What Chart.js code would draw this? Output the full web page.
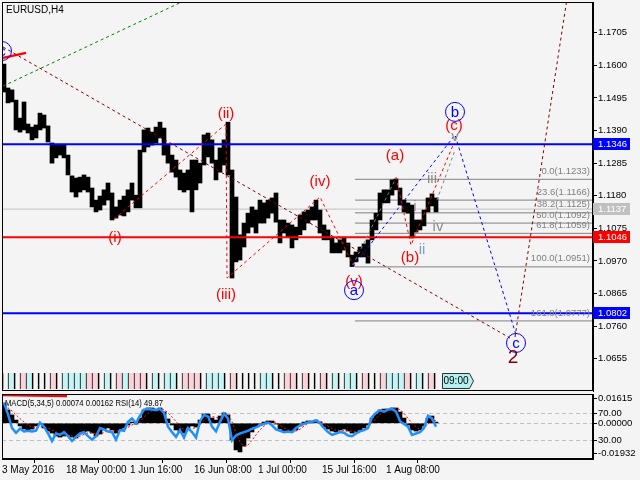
<!DOCTYPE html>
<html>
<head>
<meta charset="utf-8">
<title>EURUSD,H4</title>
<script src="https://cdn.jsdelivr.net/npm/chart.js@4.4.1/dist/chart.umd.min.js"></script>
<style>
body { margin: 0; background: #f4f4f4; }
#wrap { position: relative; width: 640px; height: 480px; background: #f4f4f4; overflow: hidden; }
#priceChart { position: absolute; left: 0; top: 0; }
#oscChart { position: absolute; left: 0; top: 393px; }
</style>
</head>
<body>
<div id="wrap">
<canvas id="priceChart" width="640" height="393"></canvas>
<canvas id="oscChart" width="640" height="87"></canvas>
</div>
<script>
// EURUSD H4 from 3 May 2016 in steps of 4 bars
const symbolTitle = 'EURUSD,H4'
const barsPerBin = 4
const barsPerDay = 6
const lastBar = 591

const dateTicks = [0, 64, 128, 192, 256, 320, 384]
const dateLabels = ['3 May 2016', '18 May 00:00', '1 Jun 16:00', '16 Jun 08:00', '1 Jul 00:00', '15 Jul 16:00', '1 Aug 08:00']
const priceTicks = [1.1705, 1.1600, 1.1495, 1.1390, 1.1285, 1.1180, 1.1075, 1.0970, 1.0865, 1.0760, 1.0655]

const highs = [
    1.1604, 1.1527, 1.1521, 1.1488, 1.1430, 1.1482, 1.1411, 1.1401, 1.1408, 1.1446,
    1.1440, 1.1405, 1.1350, 1.1343, 1.1343, 1.1343, 1.1311, 1.1244, 1.1237, 1.1240,
    1.1247, 1.1240, 1.1205, 1.1166, 1.1179, 1.1199, 1.1221, 1.1189, 1.1144, 1.1166,
    1.1179, 1.1199, 1.1221, 1.1182, 1.1327, 1.1392, 1.1398, 1.1385, 1.1401, 1.1417,
    1.1398, 1.1343, 1.1311, 1.1295, 1.1263, 1.1253, 1.1263, 1.1295, 1.1295, 1.1285,
    1.1376, 1.1382, 1.1360, 1.1295, 1.1334, 1.1360, 1.1417, 1.1263, 1.1176, 1.1054,
    1.1092, 1.1124, 1.1144, 1.1134, 1.1166, 1.1157, 1.1166, 1.1173, 1.1189, 1.1102,
    1.1102, 1.1092, 1.1086, 1.1079, 1.1118, 1.1128, 1.1134, 1.1144, 1.1166, 1.1134,
    1.1086, 1.1070, 1.1044, 1.1028, 1.1038, 1.1047, 1.1028, 1.0989, 1.0999, 1.1015,
    1.1025, 1.1038, 1.1102, 1.1124, 1.1189, 1.1199, 1.1199, 1.1231, 1.1234, 1.1205,
    1.1166, 1.1157, 1.1150, 1.1102, 1.1102, 1.1134, 1.1173, 1.1186, 1.1173
]
const lows = [
    1.1514, 1.1479, 1.1482, 1.1392, 1.1385, 1.1392, 1.1382, 1.1360, 1.1366, 1.1392,
    1.1398, 1.1353, 1.1285, 1.1302, 1.1311, 1.1302, 1.1247, 1.1192, 1.1176, 1.1192,
    1.1199, 1.1192, 1.1144, 1.1128, 1.1134, 1.1150, 1.1166, 1.1102, 1.1108, 1.1118,
    1.1115, 1.1128, 1.1166, 1.1141, 1.1141, 1.1321, 1.1337, 1.1343, 1.1350, 1.1366,
    1.1311, 1.1285, 1.1256, 1.1240, 1.1199, 1.1192, 1.1199, 1.1128, 1.1199, 1.1221,
    1.1279, 1.1305, 1.1285, 1.1231, 1.1256, 1.1279, 1.1247, 1.0915, 1.0967, 1.0973,
    1.1015, 1.1060, 1.1079, 1.1060, 1.1092, 1.1092, 1.1108, 1.1124, 1.1095, 1.1028,
    1.1060, 1.1047, 1.1012, 1.1038, 1.1054, 1.1070, 1.1092, 1.1102, 1.1102, 1.1060,
    1.1038, 1.1038, 1.0996, 1.0996, 1.0996, 1.1005, 1.0983, 1.0952, 1.0967, 1.0983,
    1.0983, 1.0963, 1.1038, 1.1070, 1.1102, 1.1157, 1.1157, 1.1182, 1.1199, 1.1150,
    1.1128, 1.1124, 1.1044, 1.1063, 1.1070, 1.1083, 1.1128, 1.1147, 1.1128
]
const lastPrice = 1.1137

// daily boxes along the bottom of the price window: c = cyan, p = pink, w = empty
const dayTones = ('wcwpcwwwpwccccppwcwpcpppwcwccwpppwcccwp' + 'wwwwccwwppwpwwpwcwccwpwwpcccpwcwpw').split('')
const timeTag = '09:00'

const levelPrices = [1.1346, 1.1046, 1.0802]
const fibStartBar = 353
const fibRatios = [0.0, 23.6, 38.2, 50.0, 61.8, 100.0, 161.8]
const fibPrices = [1.1233, 1.1166, 1.1125, 1.1092, 1.1059, 1.0951, 1.0777]

// wave lines as [bar, price] pairs
const trendGreen = [[1, 1.1533], [183, 1.1809]]
const trendMaroon = [[1, 1.1659], [508, 1.0722]]
const projection2 = [[513, 1.0725], [565, 1.1815]]
const impulseRed = [[112, 1.1105], [224, 1.1411], [225, 1.0915], [318, 1.1176], [351, 1.0957]]
const zigzagRed = [[394, 1.1240], [409, 1.1021], [452, 1.1350]]
const subwaveGrayA = [[351, 1.0957], [394, 1.1237]]
const subwaveGrayB = [[435, 1.1166], [453, 1.1327]]
const zigzagBlue = [[351, 1.0951], [453, 1.1376], [514, 1.0732]]
const markRed = [[1, 1.1624], [24, 1.1640]]

const waveLabels = ['(i)', '(ii)', '(iii)', '(iv)', '(v)', '(a)', '(b)', '(c)']
const waveLabelBars = [113, 224, 224, 318, 352, 393, 408, 452]
const waveLabelPrices = [1.1044, 1.1445, 1.0860, 1.1224, 1.0902, 1.1308, 1.0980, 1.1406]
const subLabels = ['i', 'ii', 'iii', 'iv', 'v']
const subLabelBars = [413, 420, 430, 436, 453]
const subLabelPrices = [1.1144, 1.1005, 1.1234, 1.1080, 1.1369]
const circleLabels = ['c', 'a', 'b', 'c']
const circleBars = [0, 352, 453, 514]
const circlePrices = [1.1646, 1.0876, 1.1450, 1.0706]
const degreeLabel = '2'
const degreeBar = 511
const degreePrice = 1.0657

// oscillators, same 4-bar steps
const macdMain = [
    0.0131, 0.0086, 0.0054, 0.0021, -0.0017, -0.0037, -0.0043, -0.0037, -0.0017, -0.0005,
    -0.0030, -0.0050, -0.0063, -0.0082, -0.0089, -0.0082, -0.0076, -0.0089, -0.0095, -0.0069,
    -0.0056, -0.0050, -0.0063, -0.0082, -0.0069, -0.0043, -0.0030, -0.0043, -0.0063, -0.0043,
    -0.0030, -0.0011, 0.0008, -0.0005, 0.0034, 0.0086, 0.0099, 0.0099, 0.0092, 0.0099,
    0.0073, 0.0028, -0.0011, -0.0043, -0.0056, -0.0063, -0.0030, -0.0017, -0.0024, 0.0021,
    0.0060, 0.0060, 0.0034, 0.0021, 0.0047, 0.0067, 0.0054, -0.0108, -0.0172, -0.0185,
    -0.0147, -0.0095, -0.0056, -0.0024, -0.0005, 0.0008, 0.0015, 0.0015, -0.0005, -0.0037,
    -0.0050, -0.0050, -0.0056, -0.0043, -0.0017, 0.0008, 0.0015, 0.0015, 0.0021, 0.0008,
    -0.0024, -0.0037, -0.0050, -0.0056, -0.0043, -0.0037, -0.0050, -0.0063, -0.0056, -0.0043,
    -0.0030, -0.0011, 0.0034, 0.0060, 0.0086, 0.0092, 0.0092, 0.0099, 0.0099, 0.0073,
    0.0034, -0.0011, -0.0043, -0.0050, -0.0043, -0.0017, 0.0034, 0.0047, 0.00074
]
const macdSignal = [
    0.0110, 0.0100, 0.0080, 0.0055, 0.0030, 0.0008, -0.0010, -0.0025, -0.0028, -0.0022,
    -0.0022, -0.0030, -0.0042, -0.0055, -0.0068, -0.0076, -0.0078, -0.0082, -0.0088, -0.0083,
    -0.0072, -0.0062, -0.0060, -0.0068, -0.0070, -0.0060, -0.0046, -0.0042, -0.0050, -0.0048,
    -0.0040, -0.0026, -0.0010, -0.0004, 0.0010, 0.0040, 0.0065, 0.0082, 0.0090, 0.0094,
    0.0088, 0.0068, 0.0040, 0.0012, -0.0020, -0.0042, -0.0045, -0.0035, -0.0028, -0.0010,
    0.0020, 0.0042, 0.0045, 0.0036, 0.0038, 0.0050, 0.0055, 0.0010, -0.0060, -0.0120,
    -0.0150, -0.0140, -0.0110, -0.0075, -0.0042, -0.0018, 0.0000, 0.0010, 0.0006, -0.0012,
    -0.0030, -0.0042, -0.0050, -0.0050, -0.0038, -0.0018, 0.0000, 0.0010, 0.0016, 0.0014,
    0.0000, -0.0018, -0.0034, -0.0046, -0.0048, -0.0044, -0.0045, -0.0052, -0.0055, -0.0050,
    -0.0040, -0.0026, 0.0000, 0.0030, 0.0058, 0.0076, 0.0086, 0.0092, 0.0096, 0.0088,
    0.0065, 0.0032, 0.0000, -0.0025, -0.0038, -0.0032, -0.0005, 0.0020, 0.00162
]
const rsi = [
    85, 68, 48, 41, 47, 43, 44, 43, 44, 56,
    50, 40, 29, 40, 38, 42, 36, 29, 35, 40,
    42, 36, 31, 36, 48, 46, 43, 42, 31, 45,
    44, 57, 62, 55, 66, 75, 76, 75, 74, 76,
    70, 50, 42, 35, 45, 34, 48, 42, 34, 58,
    67, 65, 50, 43, 57, 69, 62, 30, 37, 40,
    42, 44, 47, 49, 52, 54, 56, 52, 46, 44,
    42, 43, 42, 48, 52, 54, 56, 57, 59, 55,
    48, 42, 38, 40, 42, 41, 37, 36, 40, 43,
    45, 48, 64, 70, 74, 72, 75, 76, 72, 58,
    54, 50, 38, 40, 42, 48, 66, 62, 49.87
]
const macdTicks = [0.01615, 0, -0.01932]
const rsiLevels = [70, 30]
const oscMarkRed = [[1, 0.0183], [30, 0.0180], [65, 0.0176]]

const FONT = 'Liberation Sans'
Chart.defaults.font.family = FONT
Chart.defaults.font.size = 9.5
Chart.defaults.color = '#000'
Chart.defaults.animation = false
Chart.defaults.plugins.legend.display = false
Chart.defaults.plugins.tooltip.enabled = false

function binX(k) {
    return k * barsPerBin + barsPerBin / 2
}

function series(values) {
    return values.map((v, k) => ({ x: binX(k), y: v }))
}

function path(points, color, width, dash, order, axis) {
    return {
        type: 'line',
        data: points.map(p => ({ x: p[0], y: p[1] })),
        yAxisID: axis || 'y',
        borderColor: color,
        borderWidth: width,
        borderDash: dash,
        pointRadius: 0,
        tension: 0,
        fill: false,
        order: order
    }
}

function flatPadding(scale) {
    scale.paddingTop = 0
    scale.paddingBottom = 0
    scale.paddingLeft = 0
    scale.paddingRight = 0
}

const frame = {
    id: 'frame',
    afterDraw(chart) {
        const { ctx, chartArea: a } = chart
        ctx.save()
        ctx.strokeStyle = '#000'
        ctx.lineWidth = 1
        ctx.strokeRect(a.left + 0.5, a.top + 0.5, a.right - a.left - 1, a.bottom - a.top - 1)
        ctx.restore()
    }
}

const priceNotes = {
    id: 'priceNotes',
    afterDatasetsDraw(chart) {
        const { ctx, chartArea: a, scales: { x, y, ystrip } } = chart
        ctx.save()
        ctx.beginPath()
        ctx.rect(a.left, a.top, a.right - a.left, a.bottom - a.top)
        ctx.clip()
        ctx.textBaseline = 'middle'

        ctx.font = '9.5px "' + FONT + '"'
        ctx.fillStyle = '#808080'
        ctx.textAlign = 'right'
        fibRatios.forEach((r, i) => {
            ctx.fillText(r.toFixed(1) + '(' + fibPrices[i].toFixed(4) + ')', a.right - 3, y.getPixelForValue(fibPrices[i]) - 8)
        })

        ctx.textAlign = 'center'
        ctx.font = '15px "' + FONT + '"'
        ctx.fillStyle = '#ff0000'
        waveLabels.forEach((t, i) => {
            ctx.fillText(t, x.getPixelForValue(waveLabelBars[i]), y.getPixelForValue(waveLabelPrices[i]))
        })
        subLabels.forEach((t, i) => {
            ctx.fillStyle = t === 'ii' ? '#7f9cc8' : '#8c8c8c'
            ctx.fillText(t, x.getPixelForValue(subLabelBars[i]), y.getPixelForValue(subLabelPrices[i]))
        })
        ctx.strokeStyle = '#0000ff'
        ctx.lineWidth = 1
        circleLabels.forEach((t, i) => {
            const cx = x.getPixelForValue(circleBars[i])
            const cy = y.getPixelForValue(circlePrices[i])
            ctx.beginPath()
            ctx.arc(cx, cy, 9.5, 0, Math.PI * 2)
            ctx.stroke()
            ctx.fillStyle = '#0000ff'
            ctx.fillText(t, cx, cy + 0.5)
        })
        ctx.font = '19px "' + FONT + '"'
        ctx.fillStyle = '#800000'
        ctx.fillText(degreeLabel, x.getPixelForValue(degreeBar), y.getPixelForValue(degreePrice))

        // time tag at the end of the daily boxes
        const tx = x.getPixelForValue(dayTones.length * barsPerDay) + 2
        const top = ystrip.getPixelForValue(1)
        const bottom = ystrip.getPixelForValue(0)
        ctx.beginPath()
        ctx.moveTo(tx + 0.5, top + 0.5)
        ctx.lineTo(tx + 27.5, top + 0.5)
        ctx.lineTo(tx + 31.5, (top + bottom) / 2)
        ctx.lineTo(tx + 27.5, bottom - 0.5)
        ctx.lineTo(tx + 0.5, bottom - 0.5)
        ctx.closePath()
        ctx.fillStyle = '#b4f0f0'
        ctx.fill()
        ctx.strokeStyle = '#303030'
        ctx.stroke()
        ctx.font = '10px "' + FONT + '"'
        ctx.fillStyle = '#000'
        ctx.fillText(timeTag, tx + 14, (top + bottom) / 2 + 0.5)
        ctx.restore()
    },
    afterDraw(chart) {
        const { ctx, chartArea: a, scales: { y } } = chart
        ctx.save()
        ctx.textBaseline = 'middle'
        ctx.textAlign = 'left'
        ctx.font = '9.5px "' + FONT + '"'
        const tags = [[levelPrices[0], '#0000ff'], [levelPrices[1], '#ff0000'], [levelPrices[2], '#0000ff'], [lastPrice, '#c0c0c0']]
        tags.forEach(([v, bg]) => {
            const py = Math.round(y.getPixelForValue(v))
            ctx.fillStyle = bg
            ctx.fillRect(a.right, py - 6, 37, 12)
            ctx.fillStyle = '#fff'
            ctx.fillText(v.toFixed(4), a.right + 5, py + 0.5)
        })
        ctx.font = '10px "' + FONT + '"'
        ctx.fillStyle = '#000'
        ctx.fillText(symbolTitle, a.left + 4, a.top + 8)
        ctx.restore()
    }
}

const oscNotes = {
    id: 'oscNotes',
    afterDatasetsDraw(chart) {
        const { ctx, chartArea: a } = chart
        ctx.save()
        ctx.font = '9.5px "' + FONT + '"'
        ctx.fillStyle = '#000'
        ctx.textBaseline = 'middle'
        ctx.textAlign = 'left'
        const text = 'MACD(5,34,5) ' + macdMain[macdMain.length - 1].toFixed(5) + ' ' +
            macdSignal[macdSignal.length - 1].toFixed(5) + ' RSI(14) ' + rsi[rsi.length - 1].toFixed(2)
        ctx.fillText(text, a.left + 3, a.top + 9, 158)
        ctx.restore()
    },
    afterDraw(chart) {
        // RSI levels share the MACD label column
        const { ctx, chartArea: a, scales: { rsi: r } } = chart
        ctx.save()
        ctx.font = '9.5px "' + FONT + '"'
        ctx.fillStyle = '#000'
        ctx.strokeStyle = '#000'
        ctx.lineWidth = 1
        ctx.textBaseline = 'middle'
        ctx.textAlign = 'left'
        rsiLevels.forEach(v => {
            const py = Math.round(r.getPixelForValue(v)) + 0.5
            ctx.beginPath()
            ctx.moveTo(a.right, py)
            ctx.lineTo(a.right + 4, py)
            ctx.stroke()
            ctx.fillText(v.toFixed(2), a.right + 5, py)
        })
        ctx.restore()
    }
}

const toneColors = { c: '#c4f4f4', p: '#fbd2da', w: 'rgba(0,0,0,0)' }

new Chart('priceChart', {
    type: 'bar',
    data: {
        datasets: [
            path(trendGreen, '#008000', 1, [3, 3], 1),
            path(trendMaroon, '#800000', 1, [3, 3], 1),
            path(projection2, '#800000', 1, [3, 3], 1),
            path(impulseRed, '#ff0000', 1, [3, 3], 1),
            path(zigzagRed, '#ff0000', 1, [3, 3], 1),
            path(subwaveGrayA, '#808080', 1, [3, 3], 1),
            path(subwaveGrayB, '#808080', 1, [3, 3], 1),
            path(zigzagBlue, '#0000ff', 1, [3, 3], 1),
            path(markRed, '#ff0000', 2.5, [], 1),
            path([[0, levelPrices[0]], [lastBar, levelPrices[0]]], '#0000ff', 2, [], 2),
            path([[0, levelPrices[1]], [lastBar, levelPrices[1]]], '#ff0000', 2, [], 2),
            path([[0, levelPrices[2]], [lastBar, levelPrices[2]]], '#0000ff', 2, [], 2),
            {
                data: highs.map((h, k) => ({ x: binX(k), y: [lows[k], h] })),
                backgroundColor: '#000',
                barThickness: 4,
                grouped: false,
                order: 5
            },
            {
                data: dayTones.map((t, k) => ({ x: k * barsPerDay + barsPerDay / 2, y: [0, 1] })),
                yAxisID: 'ystrip',
                backgroundColor: dayTones.map(t => toneColors[t]),
                borderColor: '#000',
                borderWidth: { left: 1, right: 0, top: 0, bottom: 0 },
                borderSkipped: false,
                barThickness: 6,
                grouped: false,
                order: 5
            },
            ...fibPrices.map(v => path([[fibStartBar, v], [lastBar, v]], '#808080', 1, [], 6)),
            path([[0, lastPrice], [lastBar, lastPrice]], '#c0c0c0', 1, [], 7)
        ]
    },
    options: {
        responsive: false,
        devicePixelRatio: 1,
        layout: { padding: { left: 2, top: 2, bottom: 2, right: 0 } },
        scales: {
            x: { type: 'linear', display: false, min: 0, max: lastBar, offset: false },
            y: {
                position: 'right',
                min: 1.05513,
                max: 1.18039,
                afterBuildTicks: s => { s.ticks = priceTicks.map(v => ({ value: v })) },
                afterFit: s => { s.width = 47; flatPadding(s) },
                ticks: { callback: v => v.toFixed(4), padding: 1, autoSkip: false },
                grid: { drawOnChartArea: false, tickLength: 4, tickColor: '#000' },
                border: { color: '#000' }
            },
            ystrip: { axis: 'y', display: false, min: -0.125, max: 24.19 }
        }
    },
    plugins: [frame, priceNotes]
})

new Chart('oscChart', {
    type: 'bar',
    data: {
        datasets: [
            {
                type: 'line',
                data: series(rsi),
                yAxisID: 'rsi',
                borderColor: '#1e90ff',
                borderWidth: 2.5,
                pointRadius: 0,
                tension: 0,
                order: 1
            },
            {
                type: 'line',
                data: series(macdSignal),
                yAxisID: 'macd',
                borderColor: '#ff0000',
                borderWidth: 1,
                borderDash: [2, 2],
                pointRadius: 0,
                tension: 0,
                order: 2
            },
            {
                data: series(macdMain),
                yAxisID: 'macd',
                backgroundColor: '#000',
                barThickness: 4,
                grouped: false,
                order: 3
            },
            path(oscMarkRed, '#ff0000', 2.5, [], 1, 'macd')
        ]
    },
    options: {
        responsive: false,
        devicePixelRatio: 1,
        layout: { padding: { left: 2, top: 1, bottom: 0, right: 0 } },
        scales: {
            x: {
                type: 'linear',
                min: 0,
                max: lastBar,
                offset: false,
                afterBuildTicks: s => { s.ticks = dateTicks.map(v => ({ value: v })) },
                afterFit: s => { s.height = 21; flatPadding(s) },
                ticks: {
                    callback: v => dateLabels[dateTicks.indexOf(v)],
                    align: 'start',
                    maxRotation: 0,
                    autoSkip: false,
                    padding: 1,
                    font: { size: 10 }
                },
                grid: { drawOnChartArea: false, tickLength: 4, tickColor: '#000' },
                border: { color: '#000' }
            },
            rsi: {
                axis: 'y',
                position: 'right',
                weight: 1,
                min: 2.6,
                max: 97.84,
                afterBuildTicks: s => { s.ticks = rsiLevels.map(v => ({ value: v })) },
                afterFit: s => { s.width = 0; flatPadding(s) },
                ticks: { display: false },
                grid: { color: '#c0c0c0', drawTicks: false },
                border: { display: false, dash: [4, 3] }
            },
            macd: {
                axis: 'y',
                position: 'right',
                weight: 0,
                min: -0.02306,
                max: 0.01893,
                afterBuildTicks: s => { s.ticks = macdTicks.map(v => ({ value: v })) },
                afterFit: s => { s.width = 47; flatPadding(s) },
                ticks: { callback: v => v.toFixed(5), padding: 1, autoSkip: false },
                grid: {
                    color: c => (c.tick && c.tick.value === 0 ? '#c0c0c0' : 'rgba(0,0,0,0)'),
                    tickLength: 4,
                    tickColor: '#000'
                },
                border: { color: '#000', dash: [4, 3] }
            }
        }
    },
    plugins: [frame, oscNotes]
})
</script>
</body>
</html>
